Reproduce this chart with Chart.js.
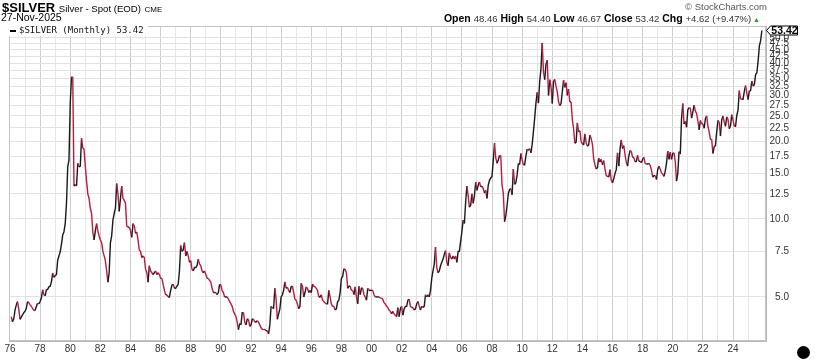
<!DOCTYPE html>
<html>
<head>
<meta charset="utf-8">
<script src="https://cdn.jsdelivr.net/npm/chart.js@4.4.1/dist/chart.umd.min.js"></script>
<style>
  html, body { margin: 0; padding: 0; background: #fff; }
  #wrap { position: relative; width: 816px; height: 363px; overflow: hidden; font-family: "Liberation Sans", Arial, sans-serif; }
  #chart { position: absolute; left: 0; top: 0; }
  .t { position: absolute; white-space: nowrap; color: #000; }
  .b { font-weight: bold; }
  .v { font-size: 9.5px; color: #333; }
  #legend { position: absolute; left: 9px; top: 26px; width: 139px; height: 10px; background: #fff; }
  #legend .dash { position: absolute; left: 1px; top: 4px; width: 6px; height: 2px; background: #000; }
  #legend .txt { position: absolute; left: 10px; top: -1px; font: 9px/10px "DejaVu Sans Mono", "Liberation Mono", monospace; color: #111; white-space: nowrap; }
  #dot { position: absolute; left: 797px; top: 346px; width: 13px; height: 13px; border-radius: 50%; background: #000; }
</style>
</head>
<body>
<div id="wrap">
  <canvas id="chart" width="816" height="363"></canvas>
  <div class="t" style="left:2px; top:1px; font-size:13px; line-height:13px;"><span class="b">$SILVER</span> <span style="font-size:9.6px">Silver - Spot (EOD)</span> <span style="font-size:8px">CME</span></div>
  <div class="t" style="left:1px; top:11.5px; font-size:10.5px; line-height:11px;">27-Nov-2025</div>
  <div class="t" style="right:49px; top:2.4px; font-size:9.5px; line-height:10px; color:#555;">© StockCharts.com</div>
  <div class="t" style="right:56px; top:12px; font-size:10.5px; line-height:12px;"><span class="b">Open</span> <span class="v">48.46</span> <span class="b">High</span> <span class="v">54.40</span> <span class="b">Low</span> <span class="v">46.67</span> <span class="b">Close</span> <span class="v">53.42</span> <span class="b">Chg</span> <span class="v">+4.62 (+9.47%)</span><span style="font-size:7px; color:#2a9d2a; margin-left:2px;">▲</span></div>
  <div id="legend"><div class="dash"></div><div class="txt">$SILVER (Monthly) 53.42</div></div>
  <div id="dot"></div>
</div>
<script>
// monthly closes, Jan 1976 .. Nov 2025
const silver1970s = [
  4.20, 4.01, 4.12, 4.45, 4.65, 4.80, 4.50, 4.10, 4.18, 4.26, 4.35, 4.40,
  4.52, 4.80, 4.75, 4.66, 4.60, 4.52, 4.45, 4.43, 4.60, 4.73, 4.70, 4.80,
  4.95, 5.33, 5.10, 5.05, 5.33, 5.35, 5.47, 5.50, 5.72, 6.18, 5.95, 6.05,
  6.10, 6.93, 7.20, 7.47, 8.00, 8.67, 8.93, 9.60, 11.50, 15.90, 16.90, 28.00
];
const silver1980s = [
  35.40, 35.20, 13.40, 13.60, 13.40, 16.40, 15.90, 16.00, 20.50, 18.80, 18.60, 16.00,
  14.00, 12.50, 12.00, 11.00, 10.50, 8.90, 8.30, 9.00, 9.60, 9.00, 8.60, 8.30,
  8.10, 7.50, 7.20, 6.90, 6.30, 5.70, 6.20, 8.10, 8.60, 9.90, 10.50, 11.00,
  13.70, 12.50, 10.70, 12.00, 13.40, 12.00, 11.80, 11.50, 9.40, 9.30, 9.30, 9.00,
  8.50, 9.60, 9.40, 8.80, 8.90, 8.30, 7.60, 7.50, 7.10, 7.20, 7.10, 6.40,
  6.20, 5.70, 6.60, 6.30, 6.20, 6.10, 6.20, 6.30, 6.10, 6.20, 6.10, 5.90,
  5.90, 5.60, 5.30, 5.10, 5.10, 5.00, 5.00, 5.30, 5.55, 5.60, 5.40, 5.40,
  5.50, 5.60, 6.30, 7.90, 7.50, 7.60, 8.10, 7.20, 7.50, 7.20, 6.80, 6.90,
  6.40, 6.30, 6.50, 6.50, 6.60, 7.00, 6.70, 6.60, 6.30, 6.20, 6.30, 6.10,
  5.90, 5.90, 5.80, 5.70, 5.40, 5.20, 5.20, 5.20, 5.10, 5.20, 5.60, 5.55
];
const silver1990s = [
  5.30, 5.20, 5.00, 5.00, 5.00, 4.90, 4.80, 4.70, 4.60, 4.40, 4.30, 4.20,
  4.00, 3.74, 3.95, 3.90, 4.35, 4.35, 4.00, 3.90, 4.10, 4.10, 3.85, 3.90,
  4.10, 4.10, 4.00, 4.00, 4.05, 4.00, 3.90, 3.80, 3.75, 3.74, 3.75, 3.70,
  3.70, 3.60, 3.90, 4.60, 4.55, 4.50, 5.40, 4.90, 4.10, 4.30, 4.50, 5.00,
  5.10, 5.30, 5.72, 5.40, 5.45, 5.30, 5.20, 5.47, 5.50, 5.20, 4.90, 4.85,
  4.70, 4.50, 4.60, 5.65, 5.50, 5.00, 5.20, 5.47, 5.40, 5.20, 5.30, 5.20,
  5.60, 5.50, 5.47, 5.40, 5.30, 5.00, 5.00, 5.10, 4.86, 4.80, 4.75, 4.70,
  4.70, 5.30, 5.00, 4.70, 4.60, 4.60, 4.45, 4.50, 4.80, 4.86, 5.20, 5.90,
  6.00, 6.40, 6.40, 6.20, 5.40, 5.50, 5.50, 5.30, 5.30, 5.10, 5.47, 5.00,
  4.70, 5.50, 5.10, 5.40, 5.40, 5.10, 5.00, 4.86, 5.40, 5.30, 5.30, 5.30
];
const silver2000s = [
  5.30, 5.10, 5.00, 5.00, 5.00, 5.00, 4.95, 4.95, 4.90, 4.75, 4.70, 4.60,
  4.55, 4.45, 4.40, 4.30, 4.40, 4.30, 4.25, 4.20, 4.55, 4.20, 4.50, 4.60,
  4.25, 4.50, 4.60, 4.60, 4.86, 4.90, 4.60, 4.55, 4.55, 4.45, 4.50, 4.70,
  4.80, 4.60, 4.45, 4.60, 4.55, 4.60, 5.10, 5.00, 5.10, 5.00, 5.30, 5.90,
  6.30, 6.70, 7.80, 6.50, 6.20, 6.30, 6.60, 6.80, 7.00, 7.30, 7.55, 6.80,
  6.60, 7.40, 7.10, 7.00, 7.20, 7.00, 7.20, 6.80, 7.50, 7.50, 8.20, 8.90,
  9.90, 9.60, 11.60, 13.40, 12.30, 11.10, 11.30, 12.50, 11.50, 12.30, 13.90, 12.90,
  13.50, 13.90, 13.30, 13.40, 13.10, 12.60, 12.90, 12.00, 13.50, 14.10, 14.40, 14.60,
  16.80, 19.60, 17.20, 16.40, 16.90, 17.60, 17.50, 13.50, 12.60, 9.77, 10.30, 11.30,
  12.50, 13.00, 13.10, 12.40, 15.60, 13.60, 13.80, 14.80, 16.40, 16.20, 17.90, 16.90
];
const silver2010s = [
  16.20, 16.20, 17.50, 18.60, 18.40, 18.70, 18.00, 19.40, 21.80, 24.50, 28.00, 30.80,
  28.00, 34.00, 37.90, 47.80, 37.00, 34.50, 39.50, 41.00, 30.00, 34.50, 32.50, 27.90,
  33.90, 34.60, 32.50, 31.00, 28.30, 27.40, 27.90, 31.00, 34.40, 32.20, 33.60, 30.00,
  31.70, 28.30, 28.30, 24.20, 22.30, 19.60, 19.80, 23.50, 21.70, 21.90, 19.90, 19.50,
  19.30, 21.30, 19.70, 19.10, 19.30, 21.10, 20.40, 19.40, 17.10, 16.20, 15.60, 15.80,
  17.20, 16.60, 17.00, 16.20, 16.80, 15.60, 14.70, 14.60, 14.50, 15.50, 14.10, 13.80,
  14.30, 15.00, 15.50, 18.00, 16.00, 18.60, 20.20, 18.70, 19.20, 17.70, 16.50, 16.00,
  17.50, 18.40, 18.20, 17.30, 17.30, 16.60, 16.70, 17.60, 16.70, 16.70, 16.50, 17.00,
  17.30, 16.40, 16.30, 16.30, 16.40, 16.10, 15.50, 14.50, 14.70, 14.70, 14.20, 15.50,
  16.00, 15.60, 15.10, 14.90, 14.60, 15.30, 16.40, 18.30, 17.00, 18.10, 17.00, 17.90
];
const silver2020s = [
  18.00, 16.60, 14.00, 15.00, 18.20, 17.80, 24.40, 27.90, 23.30, 23.80, 22.60, 26.40,
  26.90, 26.70, 24.50, 25.90, 27.50, 26.10, 25.50, 24.00, 22.10, 24.00, 23.30, 23.30,
  22.40, 24.40, 25.00, 22.80, 21.70, 20.30, 20.30, 17.90, 19.00, 19.20, 21.70, 24.00,
  23.60, 20.90, 24.10, 25.00, 23.60, 22.80, 24.80, 24.20, 22.30, 22.90, 25.30, 24.10,
  22.90, 22.70, 25.10, 26.30, 31.30, 29.10, 29.00, 29.00, 31.10, 32.70, 30.60, 28.90,
  31.30, 31.20, 34.10, 32.60, 33.00, 36.10, 36.70, 40.70, 46.60, 48.80, 53.42
];

const startYear = 1976;
const lastClose = 53.42;
const yTicks = [5, 7.5, 10, 12.5, 15, 17.5, 20, 22.5, 25, 27.5, 30, 32.5, 35, 37.5, 40, 42.5, 45, 47.5, 50];
const xLabels = ['76', '78', '80', '82', '84', '86', '88', '90', '92', '94', '96', '98',
                 '00', '02', '04', '06', '08', '10', '12', '14', '16', '18', '20', '22', '24'];

const upColor = '#1a1a1a';
const downColor = '#bd1a43';

// build points, each month plotted at its month end
const closes = [].concat(silver1970s, silver1980s, silver1990s, silver2000s, silver2010s, silver2020s);
const points = closes.map((v, i) => ({ x: startYear + (i + 1) / 12, y: v }));

const gridYears = [];
for (let y = startYear; y <= 2025; y++) gridYears.push(y);

const priceTag = {
  id: 'priceTag',
  beforeDatasetsDraw(chart) {
    const a = chart.chartArea, ctx = chart.ctx;
    ctx.save();
    ctx.strokeStyle = '#c4c4c4';
    ctx.lineWidth = 1;
    ctx.strokeRect(a.left + 0.5, a.top + 0.5, a.right - a.left - 1, a.bottom - a.top - 1);
    ctx.restore();
  },
  afterDraw(chart) {
    const ctx = chart.ctx;
    const y = Math.round(chart.scales.y.getPixelForValue(lastClose)) + 0.5;
    const x0 = chart.chartArea.right + 0.5;
    ctx.save();
    ctx.beginPath();
    ctx.moveTo(x0, y);
    ctx.lineTo(x0 + 4, y - 4.5);
    ctx.lineTo(x0 + 31, y - 4.5);
    ctx.lineTo(x0 + 31, y + 4.5);
    ctx.lineTo(x0 + 4, y + 4.5);
    ctx.closePath();
    ctx.fillStyle = '#fff';
    ctx.fill();
    ctx.strokeStyle = '#000';
    ctx.lineWidth = 1;
    ctx.stroke();
    ctx.fillStyle = '#000';
    ctx.font = 'bold 10.5px "Liberation Sans", Arial, sans-serif';
    ctx.textAlign = 'center';
    ctx.textBaseline = 'middle';
    ctx.fillText(lastClose.toFixed(2), x0 + 18, y + 0.5);
    ctx.restore();
  }
};

Chart.defaults.font.family = '"Liberation Sans", Arial, sans-serif';

new Chart(document.getElementById('chart'), {
  type: 'line',
  data: {
    datasets: [{
      label: '$SILVER (Monthly)',
      data: points,
      borderColor: upColor,
      borderWidth: 1.4,
      pointRadius: 0,
      tension: 0,
      segment: {
        borderColor: ctx => ctx.p1.parsed.y >= ctx.p0.parsed.y ? upColor : downColor
      }
    }]
  },
  options: {
    responsive: false,
    animation: false,
    layout: { padding: { left: 9, top: 26, right: 27, bottom: 0 } },
    plugins: { legend: { display: false }, tooltip: { enabled: false } },
    scales: {
      x: {
        type: 'linear',
        min: 1975.934,
        max: 2026.19,
        afterBuildTicks: s => { s.ticks = gridYears.map(v => ({ value: v })); },
        afterFit: s => { s.height = 22; },
        ticks: {
          autoSkip: false,
          maxRotation: 0,
          padding: 2,
          color: '#333',
          font: { size: 10 },
          callback: (v) => (v - startYear) % 2 === 0 ? xLabels[(v - startYear) / 2] : ''
        },
        grid: {
          drawTicks: false,
          color: c => (c.tick && (c.tick.value - startYear) % 2 === 0) ? '#cdcdcd' : '#e6e6e6'
        },
        border: { color: '#b8b8b8' }
      },
      y: {
        type: 'logarithmic',
        position: 'right',
        min: 3.38,
        max: 55.6,
        afterBuildTicks: s => { s.ticks = yTicks.map(v => ({ value: v })); },
        afterFit: s => { s.width = 23; },
        ticks: {
          autoSkip: false,
          crossAlign: 'far',
          padding: 3,
          color: '#333',
          font: { size: 10 },
          callback: v => Number(v).toFixed(1)
        },
        grid: { drawTicks: false, color: '#e2e2e2' },
        border: { color: '#b8b8b8' }
      }
    }
  },
  plugins: [priceTag]
});
</script>
</body>
</html>
